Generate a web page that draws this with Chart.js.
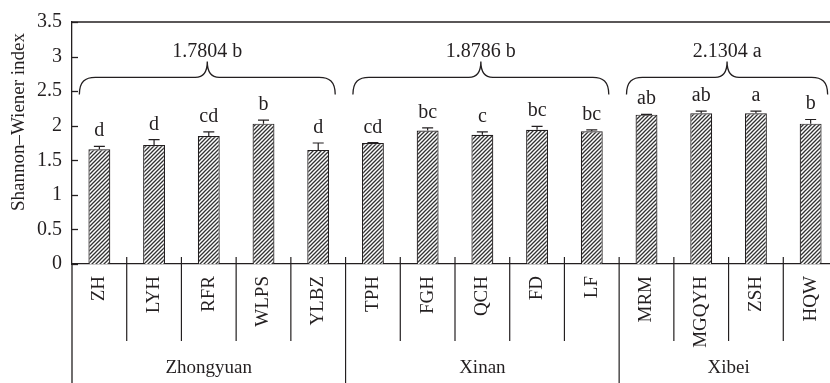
<!DOCTYPE html>
<html>
<head>
<meta charset="utf-8">
<script src="https://cdn.jsdelivr.net/npm/chart.js@4.4.0/dist/chart.umd.min.js"></script>
<style>
  html, body { margin: 0; padding: 0; background: #fff; overflow: hidden; width: 830px; height: 383px; }
  #wrap { width: 850px; height: 383px; }
</style>
</head>
<body>
<div id="wrap"><canvas id="diversityChart" width="850" height="383"></canvas></div>
<script>
var categories = ["ZH", "LYH", "RFR", "WLPS", "YLBZ", "TPH", "FGH", "QCH", "FD", "LF", "MRM", "MGQYH", "ZSH", "HQW"];
var shannonValues = [1.66, 1.72, 1.85, 2.03, 1.65, 1.75, 1.93, 1.87, 1.94, 1.92, 2.16, 2.18, 2.18, 2.03];
var errorValues = [0.04, 0.08, 0.06, 0.05, 0.10, 0.005, 0.04, 0.04, 0.05, 0.02, 0.005, 0.03, 0.03, 0.06];
var letterLabels = ["d", "d", "cd", "b", "d", "cd", "bc", "c", "bc", "bc", "ab", "ab", "a", "b"];
var groupNames = ["Zhongyuan", "Xinan", "Xibei"];
var groupSizes = [5, 5, 4];
var groupMeans = ["1.7804 b", "1.8786 b", "2.1304 a"];
var yTicks = [0, 0.5, 1, 1.5, 2, 2.5, 3, 3.5];

var textColor = "#231f20";
var lineColor = "#231f20";
var serif = "'Liberation Serif', 'DejaVu Serif', serif";

function makeHatch() {
    var c = document.createElement("canvas");
    c.width = 4;
    c.height = 4;
    var g = c.getContext("2d");
    g.fillStyle = "#ffffff";
    g.fillRect(0, 0, 4, 4);
    g.strokeStyle = "#333333";
    g.lineWidth = 1.3;
    g.beginPath();
    g.moveTo(-1, 5); g.lineTo(5, -1);
    g.moveTo(-1, 1); g.lineTo(1, -1);
    g.moveTo(3, 5); g.lineTo(5, 3);
    g.stroke();
    return g.createPattern(c, "repeat");
}

function drawBrace(ctx, x1, x2, yEnd, yMid, yPeak) {
    var xm = (x1 + x2) / 2;
    var r = 16;
    ctx.beginPath();
    ctx.moveTo(x1, yEnd);
    ctx.bezierCurveTo(x1, yMid + 4, x1 + 6, yMid, x1 + r, yMid);
    ctx.lineTo(xm - 12, yMid);
    ctx.bezierCurveTo(xm - 4, yMid, xm, yMid - 5, xm, yPeak);
    ctx.bezierCurveTo(xm, yMid - 5, xm + 4, yMid, xm + 12, yMid);
    ctx.lineTo(x2 - r, yMid);
    ctx.bezierCurveTo(x2 - 6, yMid, x2, yMid + 4, x2, yEnd);
    ctx.stroke();
}

var annotationPlugin = {
    id: "annotations",
    afterDraw: function (chart) {
        var ctx = chart.ctx;
        var xs = chart.scales.x;
        var ys = chart.scales.y;
        var area = chart.chartArea;
        var axisY = area.bottom;
        var H = chart.height;
        ctx.save();
        ctx.strokeStyle = lineColor;
        ctx.fillStyle = textColor;
        ctx.lineWidth = 1.3;

        // top frame line
        ctx.beginPath();
        ctx.moveTo(area.left, area.top);
        ctx.lineTo(area.right + 20, area.top);
        ctx.stroke();

        // inward y ticks
        yTicks.forEach(function (v) {
            var py = Math.round(ys.getPixelForValue(v)) + 0.5;
            ctx.beginPath();
            ctx.moveTo(area.left, py);
            ctx.lineTo(area.left + 6, py);
            ctx.stroke();
        });

        // left axis extended down
        ctx.beginPath();
        ctx.moveTo(area.left, axisY);
        ctx.lineTo(area.left, H);
        ctx.stroke();

        // error bars and letters
        ctx.lineWidth = 1.2;
        ctx.font = "20px " + serif;
        ctx.textAlign = "center";
        ctx.textBaseline = "alphabetic";
        for (var i = 0; i < categories.length; i++) {
            var px = xs.getPixelForValue(i);
            var top = ys.getPixelForValue(shannonValues[i]);
            var errTop = ys.getPixelForValue(shannonValues[i] + errorValues[i]);
            ctx.beginPath();
            ctx.moveTo(px, top);
            ctx.lineTo(px, errTop);
            ctx.moveTo(px - 5.5, errTop);
            ctx.lineTo(px + 5.5, errTop);
            ctx.stroke();
            ctx.fillText(letterLabels[i], px, errTop - 10);
        }

        // separators below axis
        var boundaries = [];
        var acc = 0;
        groupSizes.forEach(function (n) { acc += n; boundaries.push(acc); });
        for (var b = 1; b < categories.length; b++) {
            var bx = (xs.getPixelForValue(b - 1) + xs.getPixelForValue(b)) / 2;
            var isGroup = boundaries.indexOf(b) >= 0;
            ctx.beginPath();
            ctx.moveTo(bx, axisY - 7);
            ctx.lineTo(bx, isGroup ? H : axisY + 77);
            ctx.stroke();
        }

        // group labels and braces
        var start = 0;
        for (var g = 0; g < groupNames.length; g++) {
            var first = start;
            var last = start + groupSizes[g] - 1;
            var left = first === 0 ? area.left : (xs.getPixelForValue(first - 1) + xs.getPixelForValue(first)) / 2;
            var right = (xs.getPixelForValue(last) + xs.getPixelForValue(last + 1)) / 2;
            if (last === categories.length - 1) right = area.right;
            ctx.font = "19px " + serif;
            ctx.textAlign = "center";
            ctx.fillText(groupNames[g], (left + right) / 2, H - 10);

            var bx1 = xs.getPixelForValue(first) - 20;
            var bx2 = xs.getPixelForValue(last) + 17;
            ctx.lineWidth = 1.3;
            drawBrace(ctx, bx1, bx2, ys.getPixelForValue(2.45), ys.getPixelForValue(2.7), ys.getPixelForValue(2.93));
            ctx.font = "20px " + serif;
            ctx.fillText(groupMeans[g], (bx1 + bx2) / 2, ys.getPixelForValue(3.0));
            start += groupSizes[g];
        }

        // y axis title
        ctx.translate(19, 122);
        ctx.rotate(-Math.PI / 2);
        ctx.textAlign = "center";
        ctx.textBaseline = "middle";
        ctx.font = "19px " + serif;
        ctx.fillText("Shannon\u2013Wiener index", 0, 0);
        ctx.restore();
    }
};

var ctx = document.getElementById("diversityChart").getContext("2d");
var hatch = makeHatch();

new Chart(ctx, {
    type: "bar",
    data: {
        labels: categories,
        datasets: [{
            label: "Shannon-Wiener index",
            data: shannonValues,
            backgroundColor: hatch,
            borderColor: lineColor,
            borderWidth: 1.2,
            barPercentage: 0.4,
            categoryPercentage: 1.0
        }]
    },
    options: {
        responsive: false,
        animation: false,
        devicePixelRatio: 1,
        layout: { padding: { top: 17, right: 12, left: 0, bottom: 0 } },
        plugins: {
            legend: { display: false },
            tooltip: { enabled: false }
        },
        scales: {
            x: {
                grid: { display: false },
                border: { display: true, color: lineColor, width: 1.3 },
                ticks: {
                    autoSkip: false,
                    minRotation: 90,
                    maxRotation: 90,
                    padding: 4,
                    color: textColor,
                    font: { family: serif, size: 19 }
                },
                afterFit: function (scale) { scale.height = 119; }
            },
            y: {
                min: 0,
                max: 3.5,
                grid: { display: false, drawTicks: false },
                border: { display: true, color: lineColor, width: 1.3 },
                ticks: {
                    stepSize: 0.5,
                    padding: 10,
                    color: textColor,
                    font: { family: serif, size: 20 },
                    callback: function (v) { return String(Number(v)); }
                },
                afterFit: function (scale) { scale.width = 72; }
            }
        }
    },
    plugins: [annotationPlugin]
});
</script>
</body>
</html>
